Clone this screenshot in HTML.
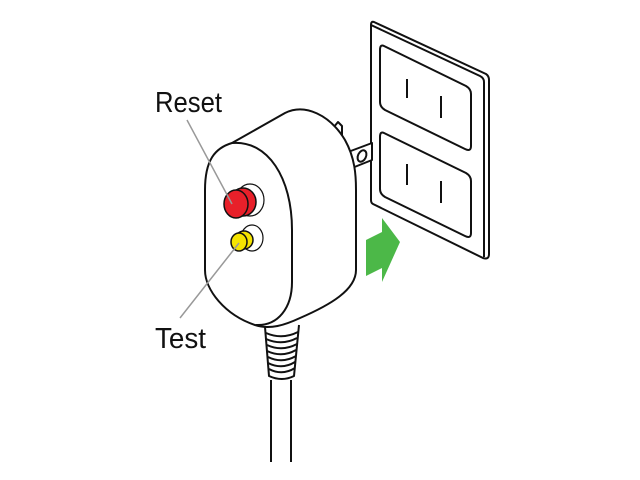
<!DOCTYPE html>
<html><head><style>html,body{margin:0;padding:0;background:#fff}svg{display:block}</style></head>
<body>
<svg width="640" height="480" viewBox="0 0 640 480" xmlns="http://www.w3.org/2000/svg">
<g fill="none" stroke="#111" stroke-width="2" stroke-linejoin="round">
<path d="M374,22 L486,74 Q489,76 489,80 L489,254 Q489,260 483,258 L373,204 Q371,203 371,200 L371,25 Q371,21 374,22 Z" fill="#fff"/>
<path d="M371,25 L480,76 Q484,78 484,82 L484,257"/>
<path d="M384,46 L466,86 Q471,89 471,94 L471,146 Q471,152 465,149 L385,110 Q380,107 380,102 L380,50 Q380,44 384,46 Z"/>
<path d="M384,133 L466,173 Q471,176 471,181 L471,233 Q471,239 465,236 L385,197 Q380,194 380,189 L380,137 Q380,131 384,133 Z"/>
<path d="M407,79 L407,98 M441,96 L441,118 M407,164 L407,185 M441,181 L441,203"/>
<path d="M333,128 L338,122 L342,126 L342,145"/>
<path d="M348,152 L372,143 L372,160 L352,168 Z" fill="#fff"/>
<ellipse cx="362" cy="156" rx="4" ry="6" transform="rotate(25 362 156)"/>
<path d="M265,327 L269,376 Q282,382 294,376 L299,325"/>
<path d="M266,333 Q282,340 298,332 M266,339 Q282,346 297,338 M267,345 Q282,352 297,344 M267,351 Q282,358 296,350 M268,357 Q282,364 296,356 M268,363 Q282,370 295,362 M269,369 Q282,376 295,368"/>
<path d="M271,380 L271,462 M291,380 L291,462"/>
<path d="M205,190 C205,160 215,148 232,143 L285,113 C305,103 330,115 345,140 C355,158 356,175 356,190 L356,270 C356,290 330,305 300,318 C285,325 270,330 255,325 C225,315 205,290 205,270 Z" fill="#fff"/>
<path d="M232,143 C268,140 292,178 292,230 L292,282 C292,308 278,326 256,325"/>
<ellipse cx="250" cy="200" rx="14" ry="16" stroke-width="1.2"/>
<ellipse cx="252" cy="238" rx="11" ry="13" stroke-width="1.2"/>
</g>
<g stroke="#111" stroke-width="1.5">
<ellipse cx="243" cy="202" rx="13" ry="14" fill="#e8202a"/>
<ellipse cx="236" cy="204" rx="12" ry="14" fill="#e8202a"/>
<ellipse cx="244" cy="240" rx="9" ry="9" fill="#f5e400"/>
<ellipse cx="239" cy="242" rx="8" ry="9" fill="#f5e400"/>
</g>
<polygon points="366,240 382,232 382,218 400,242 382,282 382,268 366,276" fill="#4cb848"/>
<path d="M187,120 L232,204 M180,318 L239,243" stroke="#999" stroke-width="1.5"/>
<g font-family="Liberation Sans, sans-serif" font-size="29" fill="#111">
<text x="155" y="112" textLength="67" lengthAdjust="spacingAndGlyphs">Reset</text>
<text x="155" y="348" textLength="51" lengthAdjust="spacingAndGlyphs">Test</text>
</g>
</svg>
</body></html>
